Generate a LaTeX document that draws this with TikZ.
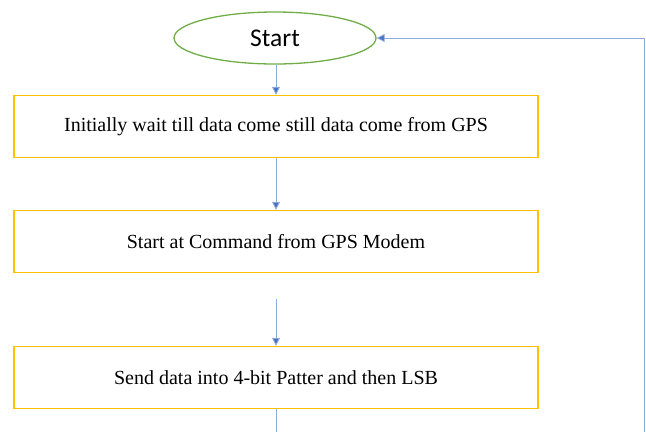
\documentclass[tikz,border=0pt]{standalone}
\usepackage{fontspec}
\setmainfont{Liberation Serif}
\newfontfamily\startfont{Carlito}
\usetikzlibrary{arrows.meta,shapes.geometric}
\definecolor{boxgold}{HTML}{FFC000}
\definecolor{ovalgreen}{HTML}{70AD47}
\definecolor{linkblue}{HTML}{4472C4}
\begin{document}
\begin{tikzpicture}[x=1pt,y=1pt,
  stepbox/.style={draw=boxgold,line width=1.4pt,minimum width=524pt,minimum height=62pt,inner sep=0pt,font=\fontsize{20}{24}\selectfont},
  oval/.style={draw=ovalgreen,line width=1.3pt,ellipse,minimum width=202pt,minimum height=52pt,inner sep=0pt,font=\startfont\fontsize{25.5}{30}\selectfont},
  link/.style={draw=linkblue!60,line width=0.9pt,-{Triangle[length=8pt,width=8pt,fill=linkblue]}},
  plainlink/.style={draw=linkblue!60,line width=0.9pt}]
\useasboundingbox (0,0) rectangle (646,-432);
\node[oval] (start) at (275,-38) {Start};
\node[stepbox] (b1) at (276,-126.5) {Initially wait till data come still data come from GPS};
\node[stepbox] (b2) at (276,-241.5) {Start at Command from GPS Modem};
\node[stepbox] (b3) at (276,-377.5) {Send data into 4-bit Patter and then LSB};
\coordinate (c2) at (276,-299);
\coordinate (bot) at (276,-432);
\coordinate (rb) at (644,-432);
\coordinate (rt) at (644,-38);
\draw[link] (start.south -| b1.north) -- (b1.north);
\draw[link] (b1.south) -- (b2.north);
\draw[link] (c2) -- (b3.north);
\draw[plainlink] (b3.south) -- (bot);
\draw[link] (rb) -- (rt) -- (start.east);
\end{tikzpicture}
\end{document}
